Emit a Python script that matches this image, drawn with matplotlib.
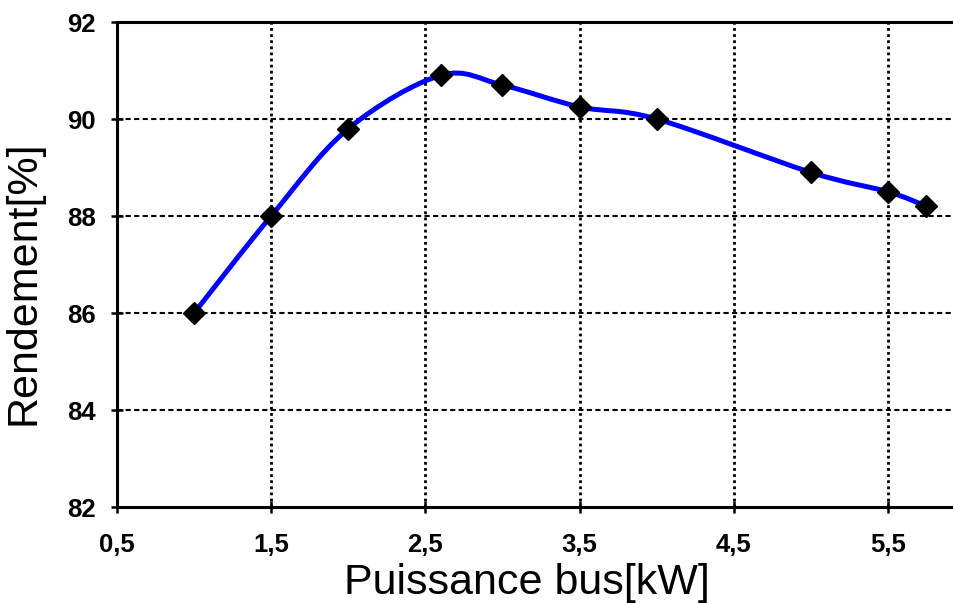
import matplotlib.pyplot as plt
from matplotlib.path import Path
from matplotlib.patches import PathPatch

# puissance bus (kW) et rendement (%)
puissance = [1.0, 1.5, 2.0, 2.6, 3.0, 3.5, 4.0, 5.0, 5.5, 5.75]
rendement = [86.0, 88.0, 89.8, 90.9, 90.7, 90.25, 90.0, 88.9, 88.5, 88.2]

xticks = [0.5, 1.5, 2.5, 3.5, 4.5, 5.5]
xtick_labels = ["0,5", "1,5", "2,5", "3,5", "4,5", "5,5"]
yticks = [82, 84, 86, 88, 90, 92]

plt.rcParams["font.family"] = ["Liberation Sans", "DejaVu Sans"]

fig = plt.figure(figsize=(9.54, 6.03), dpi=100)
ax = fig.add_axes([117/954, 96/603, 848/954, 485/603])

# smooth line (Catmull-Rom style bezier, like a spreadsheet "smoothed line")
pts = list(zip(puissance, rendement))
verts = [pts[0]]
codes = [Path.MOVETO]
for i in range(len(pts) - 1):
    p0 = pts[i - 1] if i > 0 else pts[i]
    p1 = pts[i]
    p2 = pts[i + 1]
    p3 = pts[i + 2] if i + 2 < len(pts) else pts[i + 1]
    c1 = (p1[0] + (p2[0] - p0[0]) / 6, p1[1] + (p2[1] - p0[1]) / 6)
    c2 = (p2[0] - (p3[0] - p1[0]) / 6, p2[1] - (p3[1] - p1[1]) / 6)
    verts += [c1, c2, p2]
    codes += [Path.CURVE4] * 3
ax.add_patch(PathPatch(Path(verts, codes), facecolor="none", edgecolor="#0000ff",
                       lw=3.6, zorder=3, capstyle="round", joinstyle="round"))
ax.plot(puissance, rendement, linestyle="none", marker="D", markersize=11,
        color="black", zorder=4)

ax.set_xlim(0.5, 6.0)
ax.set_ylim(82, 92)
ax.set_xticks(xticks)
ax.set_xticklabels(xtick_labels)
ax.set_yticks(yticks)

for y in [84, 86, 88, 90]:
    ax.axhline(y, color="black", lw=1.5, linestyle=(0, (2.5, 1.6)), zorder=1)
for x in xticks[1:]:
    ax.axvline(x, color="black", lw=2.0, linestyle=(0, (1.0, 1.2)), zorder=1)

ax.spines["right"].set_visible(False)
for s in ["left", "bottom", "top"]:
    ax.spines[s].set_linewidth(2.2)
ax.tick_params(direction="inout", length=9, width=1.8, labelsize=18.5)
ax.tick_params(axis="y", pad=11)
ax.tick_params(axis="x", pad=14)
for lab in ax.get_xticklabels() + ax.get_yticklabels():
    lab.set_fontweight("bold")

ax.set_xlabel("Puissance bus[kW]", fontsize=31)
ax.xaxis.set_label_coords(0.483, -0.115)
ax.set_ylabel("Rendement[%]", fontsize=31)
ax.yaxis.set_label_coords(-0.087, 0.462)

plt.savefig("out.png", dpi=100)
